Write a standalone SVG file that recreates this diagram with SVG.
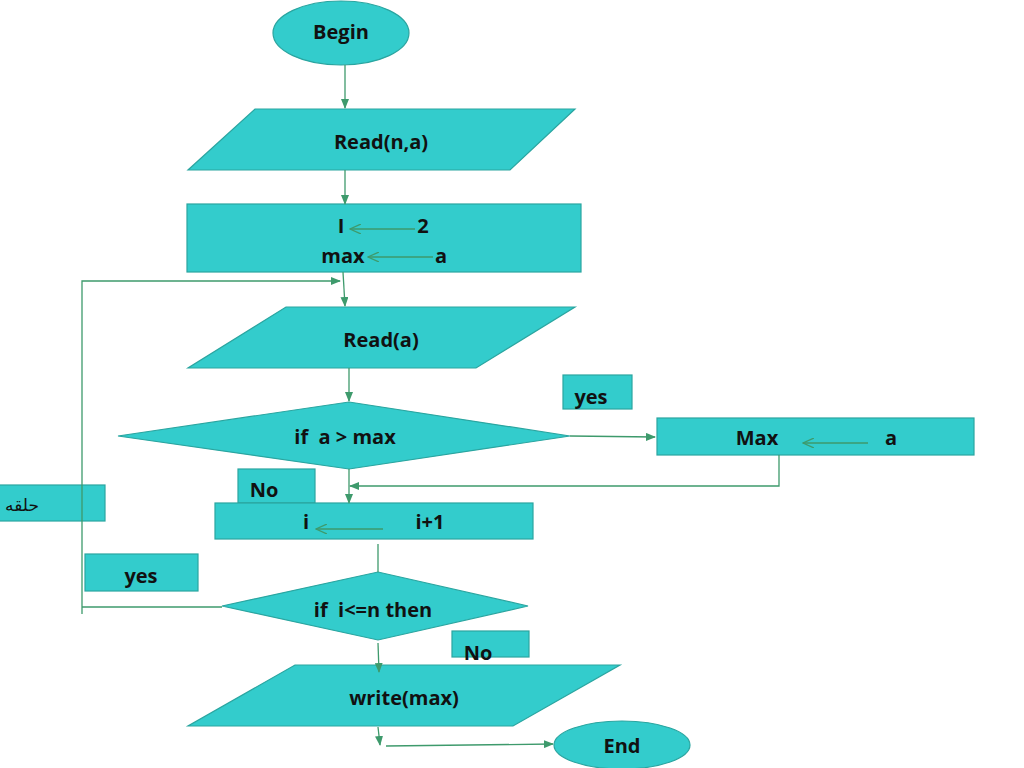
<svg xmlns="http://www.w3.org/2000/svg" width="1024" height="768" viewBox="0 0 1024 768">
<defs>
<style>
.s{fill:#33CCCC;stroke:#2AA5A0;stroke-width:1.2}
.t{font-family:"Open Sans","Liberation Sans",sans-serif;font-weight:bold;font-size:20px;fill:#111;text-anchor:middle}
.c{fill:none;stroke:#3E9A6C;stroke-width:1.3}
</style>
<marker id="a" markerWidth="10" markerHeight="8" refX="9" refY="4" orient="auto" markerUnits="userSpaceOnUse">
<path d="M0,0 L10,4 L0,8 Z" fill="#3E9A6C"/>
</marker>
<marker id="o" markerWidth="12" markerHeight="10" refX="11" refY="5" orient="auto" markerUnits="userSpaceOnUse">
<path d="M0,0 L11,5 L0,10" fill="none" stroke="#3E9A6C" stroke-width="1.3"/>
</marker>
</defs>
<rect width="1024" height="768" fill="#fff"/>
<g id="begin"><ellipse class="s" cx="341" cy="33" rx="68" ry="32"/><text class="t" x="341" y="39">Begin</text></g>
<g id="readna"><polygon class="s" points="255,109 575,109 510,170 188,170"/><text class="t" x="381" y="149">Read(n,a)</text></g>
<g id="init"><rect class="s" x="187" y="204" width="394" height="68"/><text class="t" x="341" y="233">I</text><text class="t" x="423" y="233">2</text><text class="t" x="343" y="263">max</text><text class="t" x="441" y="263">a</text>
<line class="c" x1="415" y1="229" x2="350" y2="229" marker-end="url(#o)"/><line class="c" x1="433" y1="257" x2="368" y2="257" marker-end="url(#o)"/></g>
<g id="reada"><polygon class="s" points="286,307 575,307 476,368 188,368"/><text class="t" x="381" y="347">Read(a)</text></g>
<g id="cond1"><polygon class="s" points="118,436 349,402 570,436 349,469"/><text class="t" x="345" y="444" xml:space="preserve">if  a &gt; max</text></g>
<g id="yes1"><rect class="s" x="563" y="375" width="69" height="34"/><text class="t" x="591" y="404">yes</text></g>
<g id="maxa"><rect class="s" x="657" y="418" width="317" height="37"/><text class="t" x="757" y="445">Max</text><text class="t" x="891" y="445">a</text>
<line class="c" x1="868" y1="443" x2="803" y2="443" marker-end="url(#o)"/></g>
<g id="no1"><rect class="s" x="238" y="469" width="77" height="34"/><text class="t" x="264" y="497">No</text></g>
<g id="inc"><rect class="s" x="215" y="503" width="318" height="36"/><text class="t" x="306" y="529">i</text><text class="t" x="430" y="529">i+1</text>
<line class="c" x1="383" y1="529" x2="316" y2="529" marker-end="url(#o)"/></g>
<g id="loop"><rect class="s" x="-2" y="485" width="107" height="36"/><text class="t" x="22" y="511" style="font-family:'DejaVu Sans',sans-serif;font-size:17px;font-weight:normal">حلقه</text></g>
<g id="yes2"><rect class="s" x="85" y="554" width="113" height="37"/><text class="t" x="141" y="583">yes</text></g>
<g id="cond2"><polygon class="s" points="222,606 378,572 528,606 378,640"/><text class="t" x="373" y="617" xml:space="preserve">if  i&lt;=n then</text></g>
<g id="no2"><rect class="s" x="452" y="631" width="77" height="26"/><text class="t" x="478" y="660">No</text></g>
<g id="write"><polygon class="s" points="295,665 620,665 513,726 188,726"/><text class="t" x="404" y="705">write(max)</text></g>
<g id="end"><ellipse class="s" cx="622" cy="745" rx="68" ry="24"/><text class="t" x="622" y="753">End</text></g>
<g id="connectors">
<line class="c" x1="345" y1="65" x2="345" y2="108" marker-end="url(#a)"/>
<line class="c" x1="345" y1="170" x2="345" y2="204" marker-end="url(#a)"/>
<line class="c" x1="343" y1="272" x2="345" y2="306" marker-end="url(#a)"/>
<polyline class="c" points="82,614 82,281 340,281" marker-end="url(#a)"/>
<line class="c" x1="82" y1="607" x2="222" y2="607"/>
<line class="c" x1="349" y1="368" x2="349" y2="401" marker-end="url(#a)"/>
<line class="c" x1="570" y1="436" x2="655" y2="437" marker-end="url(#a)"/>
<polyline class="c" points="779,455 779,486 350,486" marker-end="url(#a)"/>
<line class="c" x1="349" y1="469" x2="349" y2="503" marker-end="url(#a)"/>
<line class="c" x1="378" y1="544" x2="378" y2="572"/>
<line class="c" x1="378" y1="643" x2="379" y2="672" marker-end="url(#a)"/>
<line class="c" x1="378" y1="727" x2="380" y2="745" marker-end="url(#a)"/>
<line class="c" x1="386" y1="746" x2="553" y2="744" marker-end="url(#a)"/>
</g>
</svg>
